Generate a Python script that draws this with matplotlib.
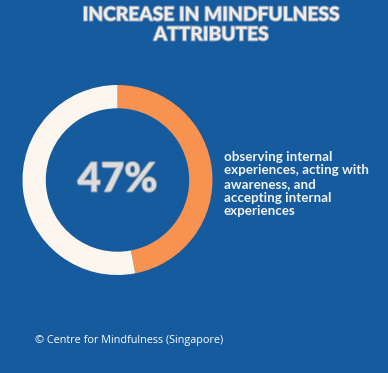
import matplotlib.pyplot as plt
import matplotlib.patheffects as pe

# data
share = 47
labels = ["Increase", "Rest"]
values = [share, 100 - share]
colors = ["#f89250", "#fdf6ee"]

title = "INCREASE IN MINDFULNESS\nATTRIBUTES"
desc = "observing internal\nexperiences, acting with\nawareness, and\naccepting internal\nexperiences"
credit = "\u00a9 Centre for Mindfulness (Singapore)"

bg = "#155b9e"
W, H = 388, 373

fig = plt.figure(figsize=(W / 100, H / 100), dpi=100)
fig.patch.set_facecolor(bg)

# donut in its own axes, placed in pixels
cx, cy, r = 117.5, 180, 95
ax = fig.add_axes([(cx - r) / W, (H - cy - r) / H, 2 * r / W, 2 * r / H])
ax.pie(values, colors=colors, startangle=90, counterclock=False,
       wedgeprops=dict(width=0.245, linewidth=0))
ax.set_xlim(-1, 1)
ax.set_ylim(-1, 1)
ax.set_aspect("equal")
ax.axis("off")

ax.text(0, 0, "%d%%" % share, ha="center", va="center", fontsize=29,
        fontweight="black", family="Lato", color="#dcdcdc",
        path_effects=[pe.withStroke(linewidth=1.5, foreground="#8090a8")])

def px(x, y):
    return x / W, 1 - y / H

fig.text(*px(211, 25), title, ha="center", va="center", fontsize=13.8,
         fontweight="black", family="Lato", color="#ececec", linespacing=1.2,
         path_effects=[pe.withStroke(linewidth=1.4, foreground="#8a9ab0")])

fig.text(*px(224, 184), desc, ha="left", va="center", fontsize=9.6,
         family="Lato", fontweight="bold", color="#f2f2f2", linespacing=1.17)

fig.text(*px(35, 341), credit, ha="left", va="center", fontsize=7.8,
         family="Open Sans", color="#ffffff")

fig.savefig("out.png", dpi=100, facecolor=bg)
